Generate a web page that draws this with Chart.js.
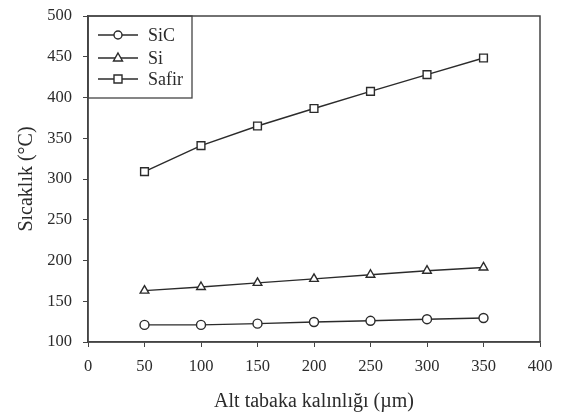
<!DOCTYPE html>
<html>
<head>
<meta charset="utf-8">
<script src="https://cdn.jsdelivr.net/npm/chart.js@4/dist/chart.umd.min.js"></script>
<style>
  body { margin: 0; background: #fff; }
  #wrap { width: 563px; height: 414px; }
</style>
</head>
<body>
<div id="wrap"><canvas id="chart" width="563" height="414"></canvas></div>
<script>
// substrate thickness (µm)
const thickness = [50, 100, 150, 200, 250, 300, 350];
const sicTemps = [121, 121, 122.5, 124.5, 126, 128, 129.5];
const siTemps = [163, 167.5, 172.5, 177.5, 182.5, 187.5, 191.5];
const safirTemps = [309, 341, 365, 386.5, 407.5, 428, 448.5];
const seriesNames = ["SiC", "Si", "Safir"];

const FONT = "'Liberation Serif', 'Times New Roman', serif";
const INK = "#2b2b2b";

function toPoints(ys) {
    return thickness.map((x, i) => ({ x: x, y: ys[i] }));
}

// frame around plot + boxed legend in the top-left corner
const framePlugin = {
    id: "frame",
    afterDraw(chart) {
        const ctx = chart.ctx;
        const a = chart.chartArea;
        ctx.save();
        ctx.strokeStyle = "#444";
        ctx.lineWidth = 1.5;
        ctx.strokeRect(a.left, a.top, a.right - a.left, a.bottom - a.top);

        // legend box
        ctx.lineWidth = 1.3;
        ctx.strokeRect(a.left, a.top, 104, 82);
        const rows = [19, 42, 63];
        chart.data.datasets.forEach((ds, i) => {
            const y = a.top + rows[i];
            const x0 = a.left + 10, x1 = a.left + 50, xm = a.left + 30;
            ctx.strokeStyle = INK;
            ctx.lineWidth = 1.4;
            ctx.beginPath();
            ctx.moveTo(x0, y);
            ctx.lineTo(x1, y);
            ctx.stroke();
            ctx.fillStyle = "#fff";
            ctx.beginPath();
            if (ds.pointStyle === "circle") {
                ctx.arc(xm, y, 4, 0, Math.PI * 2);
            } else if (ds.pointStyle === "triangle") {
                ctx.moveTo(xm, y - 5);
                ctx.lineTo(xm + 4.5, y + 3);
                ctx.lineTo(xm - 4.5, y + 3);
                ctx.closePath();
            } else {
                ctx.rect(xm - 4, y - 4, 8, 8);
            }
            ctx.fill();
            ctx.stroke();
            ctx.fillStyle = INK;
            ctx.font = "18px " + FONT;
            ctx.textBaseline = "middle";
            ctx.fillText(ds.label, a.left + 60, y + 1);
        });
        ctx.restore();
    }
};

function makeSet(label, ys, style, radius) {
    return {
        label: label,
        data: toPoints(ys),
        borderColor: INK,
        borderWidth: 1.4,
        pointStyle: style,
        pointRadius: radius,
        pointBorderWidth: 1.4,
        pointBorderColor: INK,
        pointBackgroundColor: "#fff",
        tension: 0,
        fill: false
    };
}

new Chart(document.getElementById("chart"), {
    type: "line",
    data: {
        datasets: [
            makeSet(seriesNames[0], sicTemps, "circle", 4.5),
            makeSet(seriesNames[1], siTemps, "triangle", 5),
            makeSet(seriesNames[2], safirTemps, "rect", 5.5)
        ]
    },
    options: {
        responsive: false,
        animation: false,
        layout: { padding: { top: 16, right: 23, left: 0, bottom: 0 } },
        plugins: {
            legend: { display: false },
            tooltip: { enabled: false }
        },
        scales: {
            x: {
                type: "linear",
                min: 0,
                max: 400,
                afterFit(scale) {
                    scale.height = 72;
                    scale.paddingLeft = 0;
                    scale.paddingRight = 0;
                },
                ticks: {
                    stepSize: 50,
                    color: INK,
                    padding: 10,
                    font: { family: FONT, size: 16.5 },
                    maxRotation: 0
                },
                grid: {
                    drawOnChartArea: false,
                    drawTicks: true,
                    tickLength: 5,
                    color: "#444"
                },
                border: { display: true, color: "#444", width: 1.5 },
                title: {
                    display: true,
                    text: "Alt tabaka kalınlığı (µm)",
                    color: INK,
                    font: { family: FONT, size: 20 },
                    padding: { top: 0, bottom: 0 }
                }
            },
            y: {
                min: 100,
                max: 500,
                afterFit(scale) {
                    scale.width = 88;
                    scale.paddingTop = 0;
                    scale.paddingBottom = 0;
                },
                ticks: {
                    stepSize: 50,
                    color: INK,
                    padding: 11,
                    font: { family: FONT, size: 16.5 }
                },
                grid: {
                    drawOnChartArea: false,
                    drawTicks: true,
                    tickLength: 5,
                    color: "#444"
                },
                border: { display: true, color: "#444", width: 1.5 },
                title: {
                    display: true,
                    text: "Sıcaklık (°C)",
                    color: INK,
                    font: { family: FONT, size: 20 },
                    padding: { top: 15, bottom: 0 }
                }
            }
        }
    },
    plugins: [framePlugin]
});
</script>
</body>
</html>
